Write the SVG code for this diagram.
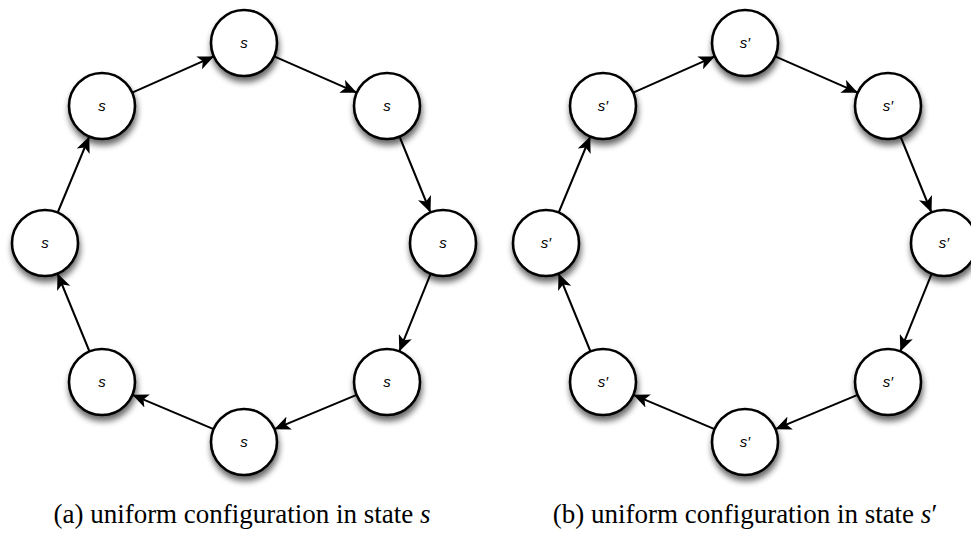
<svg xmlns="http://www.w3.org/2000/svg" width="971" height="536" viewBox="0 0 971 536">
<style>
.node circle{fill:#fff;stroke:#000;stroke-width:2.6;filter:url(#sh)}
.lbl{font-family:"Liberation Sans",Arial,sans-serif;font-style:italic;font-size:15px;text-anchor:middle}
.edge{stroke:#000;stroke-width:2;fill:none;marker-end:url(#ah)}
.cap{font-family:"Liberation Serif","Times New Roman",serif;font-size:27px;text-anchor:middle}
</style>
<defs>
<filter id="sh" x="-50%" y="-50%" width="200%" height="200%">
<feGaussianBlur in="SourceAlpha" stdDeviation="3"/>
<feOffset dx="1" dy="5" result="b"/>
<feComponentTransfer><feFuncA type="linear" slope="0.6"/></feComponentTransfer>
<feMerge><feMergeNode/><feMergeNode in="SourceGraphic"/></feMerge>
</filter>
<marker id="ah" markerUnits="userSpaceOnUse" markerWidth="18" markerHeight="14" refX="16" refY="7" orient="auto">
<path d="M0,0 L16,7 L0,14 L4,7 Z" fill="#000"/>
</marker>
</defs>

<g id="ringA">
<g id="connectorsA">
<line class="edge" x1="132.2" y1="92.6" x2="213.8" y2="56.4"/>
<line class="edge" x1="274.2" y1="56.3" x2="356.8" y2="92.7"/>
<line class="edge" x1="399.5" y1="136.5" x2="430.5" y2="212.5"/>
<line class="edge" x1="430.7" y1="273.6" x2="399.3" y2="351.4"/>
<line class="edge" x1="356.6" y1="394.8" x2="274.4" y2="429.2"/>
<line class="edge" x1="213.6" y1="429.2" x2="132.4" y2="394.8"/>
<line class="edge" x1="89.5" y1="351.5" x2="57.5" y2="273.5"/>
<line class="edge" x1="57.7" y1="212.5" x2="89.3" y2="136.5"/>
</g>
<g id="a-top" class="node"><circle cx="244" cy="43" r="33"/><text class="lbl" x="244" y="48">s</text></g>
<g id="a-upright" class="node"><circle cx="387" cy="106" r="33"/><text class="lbl" x="387" y="111">s</text></g>
<g id="a-right" class="node"><circle cx="443" cy="243" r="33"/><text class="lbl" x="443" y="248">s</text></g>
<g id="a-lowright" class="node"><circle cx="387" cy="382" r="33"/><text class="lbl" x="387" y="387">s</text></g>
<g id="a-bottom" class="node"><circle cx="244" cy="442" r="33"/><text class="lbl" x="244" y="447">s</text></g>
<g id="a-lowleft" class="node"><circle cx="102" cy="382" r="33"/><text class="lbl" x="102" y="387">s</text></g>
<g id="a-left" class="node"><circle cx="45" cy="243" r="33"/><text class="lbl" x="45" y="248">s</text></g>
<g id="a-upleft" class="node"><circle cx="102" cy="106" r="33"/><text class="lbl" x="102" y="111">s</text></g>
</g>

<g id="ringB" transform="translate(501,0)">
<g id="connectorsB">
<line class="edge" x1="132.2" y1="92.6" x2="213.8" y2="56.4"/>
<line class="edge" x1="274.2" y1="56.3" x2="356.8" y2="92.7"/>
<line class="edge" x1="399.5" y1="136.5" x2="430.5" y2="212.5"/>
<line class="edge" x1="430.7" y1="273.6" x2="399.3" y2="351.4"/>
<line class="edge" x1="356.6" y1="394.8" x2="274.4" y2="429.2"/>
<line class="edge" x1="213.6" y1="429.2" x2="132.4" y2="394.8"/>
<line class="edge" x1="89.5" y1="351.5" x2="57.5" y2="273.5"/>
<line class="edge" x1="57.7" y1="212.5" x2="89.3" y2="136.5"/>
</g>
<g id="b-top" class="node"><circle cx="244" cy="43" r="33"/><text class="lbl" x="244" y="48">s′</text></g>
<g id="b-upright" class="node"><circle cx="387" cy="106" r="33"/><text class="lbl" x="387" y="111">s′</text></g>
<g id="b-right" class="node"><circle cx="443" cy="243" r="33"/><text class="lbl" x="443" y="248">s′</text></g>
<g id="b-lowright" class="node"><circle cx="387" cy="382" r="33"/><text class="lbl" x="387" y="387">s′</text></g>
<g id="b-bottom" class="node"><circle cx="244" cy="442" r="33"/><text class="lbl" x="244" y="447">s′</text></g>
<g id="b-lowleft" class="node"><circle cx="102" cy="382" r="33"/><text class="lbl" x="102" y="387">s′</text></g>
<g id="b-left" class="node"><circle cx="45" cy="243" r="33"/><text class="lbl" x="45" y="248">s′</text></g>
<g id="b-upleft" class="node"><circle cx="102" cy="106" r="33"/><text class="lbl" x="102" y="111">s′</text></g>
</g>

<text class="cap" x="242" y="523">(a) uniform configuration in state <tspan font-style="italic">s</tspan></text>
<text class="cap" x="745" y="523">(b) uniform configuration in state <tspan font-style="italic">s</tspan>′</text>
</svg>
